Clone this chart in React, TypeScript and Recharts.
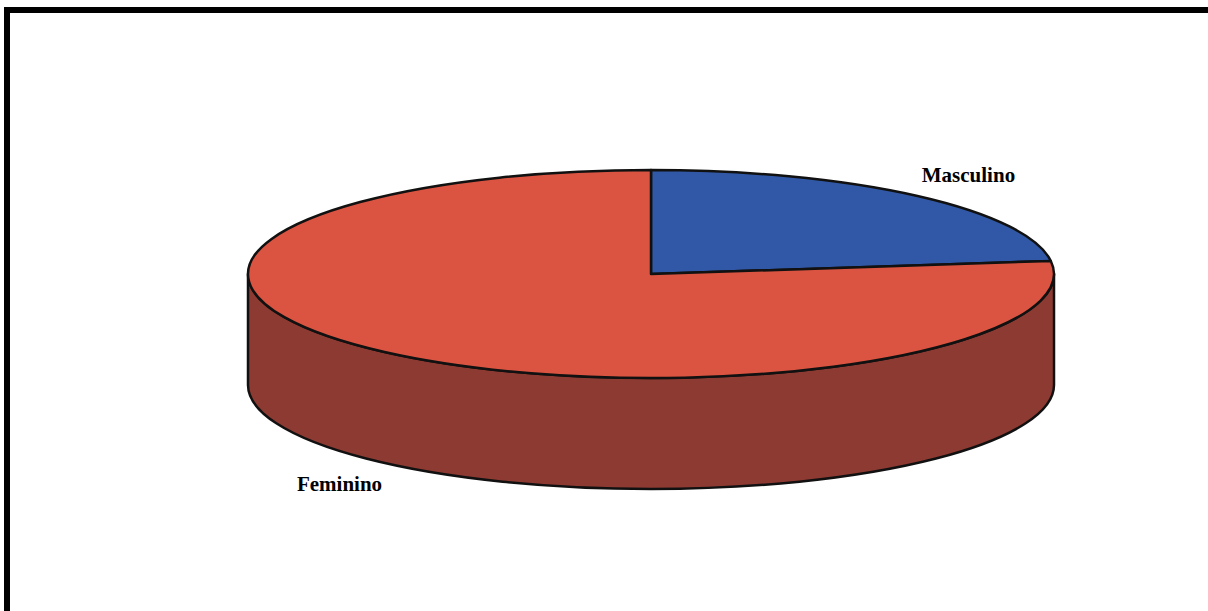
import React from "react";
import { PieChart, Pie, Cell } from "recharts";

const categories = ["Masculino", "Feminino"];
const values = [23, 77];
const topColors = ["#3158A7", "#DB5441"];
const sideColors = ["#24407A", "#8D3A32"];

const data = categories.map((name, i) => ({ name, value: values[i] }));

const RAD = Math.PI / 180;
const TILT = 104 / 403; // vertical squash of the disc
const DEPTH = 111; // thickness of the disc

const pt = (cx: number, cy: number, r: number, a: number, dy = 0) => {
  const x = cx + r * Math.cos(a * RAD);
  const y = cy - r * TILT * Math.sin(a * RAD) + dy;
  return `${x.toFixed(2)},${y.toFixed(2)}`;
};

const Slice3D = (props: any) => {
  const { cx, cy, outerRadius: r, startAngle, endAngle, index } = props;
  const ry = r * TILT;
  const big = Math.abs(endAngle - startAngle) > 180 ? 1 : 0;
  const sweep = startAngle > endAngle ? 1 : 0;
  const top = `M${cx},${cy} L${pt(cx, cy, r, startAngle)} A${r},${ry} 0 ${big} ${sweep} ${pt(
    cx,
    cy,
    r,
    endAngle
  )} Z`;

  // side wall only where the slice faces the viewer (lower half)
  const lo = Math.min(startAngle, endAngle);
  const hi = Math.max(startAngle, endAngle);
  const sides: string[] = [];
  for (const off of [-720, -360, 0, 360]) {
    const a = Math.max(lo, -180 + off);
    const b = Math.min(hi, off);
    if (b - a > 0.01) {
      sides.push(
        `M${pt(cx, cy, r, b)} A${r},${ry} 0 0 1 ${pt(cx, cy, r, a)} L${pt(cx, cy, r, a, DEPTH)} A${r},${ry} 0 0 0 ${pt(
          cx,
          cy,
          r,
          b,
          DEPTH
        )} Z`
      );
    }
  }

  return (
    <g>
      {sides.map((d, i) => (
        <path key={i} d={d} fill={sideColors[index]} stroke="#111" strokeWidth={2.5} strokeLinejoin="round" />
      ))}
      <path d={top} fill={topColors[index]} stroke="#111" strokeWidth={2.5} strokeLinejoin="round" />
    </g>
  );
};

const renderLabel = (props: any) => {
  const { cx, cy, midAngle, outerRadius: r, name } = props;
  const s = Math.sin(midAngle * RAD);
  const x = cx + r * 1.18 * Math.cos(midAngle * RAD) + 3;
  const y = cy - r * TILT * 1.27 * s + (s < 0 ? DEPTH : 0);
  return (
    <text
      x={x}
      y={y}
      textAnchor="middle"
      dominantBaseline="central"
      fontFamily="'Liberation Serif', 'Times New Roman', serif"
      fontWeight="bold"
      fontSize={21}
      fill="#000"
    >
      {name}
    </text>
  );
};

export default function App() {
  return (
    <div style={{ position: "absolute", left: 0, top: 0, width: 1208, height: 611, background: "#fff" }}>
      <div
        style={{
          position: "absolute",
          left: 4,
          top: 7,
          width: 1204,
          height: 604,
          borderTop: "6px solid #000",
          borderLeft: "6px solid #000",
          boxSizing: "border-box",
        }}
      />
      <div style={{ position: "absolute", left: 0, top: 0 }}>
        <PieChart width={1208} height={611} margin={{ top: 0, right: 0, bottom: 0, left: 0 }}>
          <Pie
            data={data}
            dataKey="value"
            nameKey="name"
            cx={651}
            cy={274}
            outerRadius={403}
            startAngle={90}
            endAngle={-270}
            isAnimationActive={false}
            label={renderLabel}
            labelLine={false}
            shape={Slice3D}
            inactiveShape={Slice3D}
            activeShape={Slice3D}
            stroke="none"
          >
            {data.map((d, i) => (
              <Cell key={d.name} fill={topColors[i]} />
            ))}
          </Pie>
        </PieChart>
      </div>
    </div>
  );
}
